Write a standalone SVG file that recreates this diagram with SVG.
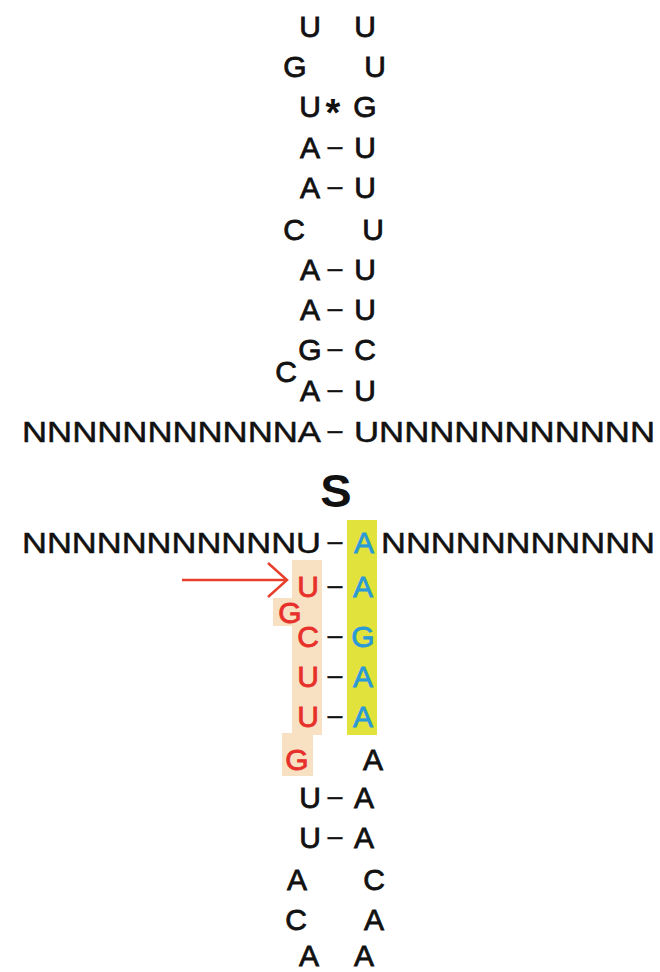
<svg xmlns="http://www.w3.org/2000/svg" width="660" height="972" viewBox="0 0 660 972">
<style>
.t{font-family:"Liberation Sans",Arial,sans-serif;font-size:30px;fill:#111;stroke:#111;stroke-width:0.8px;text-anchor:middle}
.n{font-family:"Liberation Sans",Arial,sans-serif;font-size:30px;fill:#111;stroke:#111;stroke-width:0.5px}
.r{fill:#e8302a;stroke:#e8302a}
.b{fill:#2a9ad6;stroke:#2a9ad6}
.d{font-family:"Liberation Sans",Arial,sans-serif;font-size:26px;fill:#111;stroke:#111;stroke-width:0.6px;text-anchor:middle}
.a{font-family:"Liberation Sans",Arial,sans-serif;font-size:38px;font-weight:bold;fill:#111;text-anchor:middle}
.s{font-family:"Liberation Sans",Arial,sans-serif;font-size:47px;font-weight:bold;fill:#111;text-anchor:middle}
</style>
<rect width="660" height="972" fill="#fff"/>
<g id="highlights">
<rect x="347" y="520" width="30" height="215" fill="#e2e23c"/>
<rect x="292" y="560" width="30" height="175" fill="#f7e1c2"/>
<rect x="273" y="598" width="20" height="28" fill="#f7e1c2"/>
<rect x="282" y="733" width="31" height="43" fill="#f7e1c2"/>
</g>
<g id="top-loop">
<text class="t" x="310" y="37">U</text><text class="t" x="365" y="37">U</text>
<text class="t" x="295" y="77">G</text><text class="t" x="375" y="77">U</text>
<text class="t" x="310" y="117">U</text><text class="t" x="365" y="117">G</text>
</g>
<g id="top-stem">
<text class="t" x="310" y="158">A</text><text class="t" x="365" y="158">U</text>
<text class="t" x="310" y="198">A</text><text class="t" x="365" y="198">U</text>
<text class="t" x="294" y="240">C</text><text class="t" x="373" y="240">U</text>
<text class="t" x="310" y="280">A</text><text class="t" x="365" y="280">U</text>
<text class="t" x="310" y="320">A</text><text class="t" x="365" y="320">U</text>
<text class="t" x="310" y="360">G</text><text class="t" x="365" y="360">C</text>
<text class="t" x="286" y="382">C</text>
<text class="t" x="310" y="401">A</text><text class="t" x="365" y="401">U</text>
</g>
<g id="strand-top">
<text class="n" x="22" y="442" textLength="299" lengthAdjust="spacingAndGlyphs">NNNNNNNNNNNA</text>
<text class="n" x="354" y="442" textLength="301" lengthAdjust="spacingAndGlyphs">UNNNNNNNNNNN</text>
</g>
<g id="label-S"><text class="s" x="336" y="507">S</text></g>
<g id="strand-bottom">
<text class="n" x="22" y="553" textLength="299" lengthAdjust="spacingAndGlyphs">NNNNNNNNNNNU</text>
<text class="t b" x="364" y="553">A</text>
<text class="n" x="381" y="553" textLength="274" lengthAdjust="spacingAndGlyphs">NNNNNNNNNNN</text>
</g>
<g id="bottom-stem">
<text class="t r" x="308" y="597">U</text><text class="t b" x="363" y="597">A</text>
<text class="t r" x="290" y="623">G</text>
<text class="t r" x="308" y="647">C</text><text class="t b" x="363" y="647">G</text>
<text class="t r" x="308" y="687">U</text><text class="t b" x="363" y="687">A</text>
<text class="t r" x="308" y="727">U</text><text class="t b" x="363" y="727">A</text>
<text class="t r" x="297" y="770">G</text><text class="t" x="373" y="770">A</text>
<text class="t" x="310" y="808">U</text><text class="t" x="364" y="808">A</text>
<text class="t" x="310" y="848">U</text><text class="t" x="364" y="848">A</text>
</g>
<g id="bottom-loop">
<text class="t" x="297" y="890">A</text><text class="t" x="374" y="890">C</text>
<text class="t" x="296" y="930">C</text><text class="t" x="374" y="930">A</text>
<text class="t" x="309" y="966">A</text><text class="t" x="364" y="966">A</text>
</g>
<g id="connectors">
<text class="a" x="333" y="126">*</text>
<text class="d" x="335" y="155">–</text>
<text class="d" x="335" y="195">–</text>
<text class="d" x="335" y="277">–</text>
<text class="d" x="335" y="317">–</text>
<text class="d" x="335" y="357">–</text>
<text class="d" x="335" y="398">–</text>
<text class="d" x="335" y="439">–</text>
<text class="d" x="335" y="550">–</text>
<text class="d" x="335" y="594">–</text>
<text class="d" x="335" y="644">–</text>
<text class="d" x="335" y="684">–</text>
<text class="d" x="335" y="724">–</text>
<text class="d" x="335" y="805">–</text>
<text class="d" x="335" y="845">–</text>
<g fill="none" stroke="#e8402c" stroke-width="2.5">
<line x1="182" y1="580" x2="286" y2="580"/>
<polyline points="268,563 287,580 268,597"/>
</g>
</g>
</svg>
